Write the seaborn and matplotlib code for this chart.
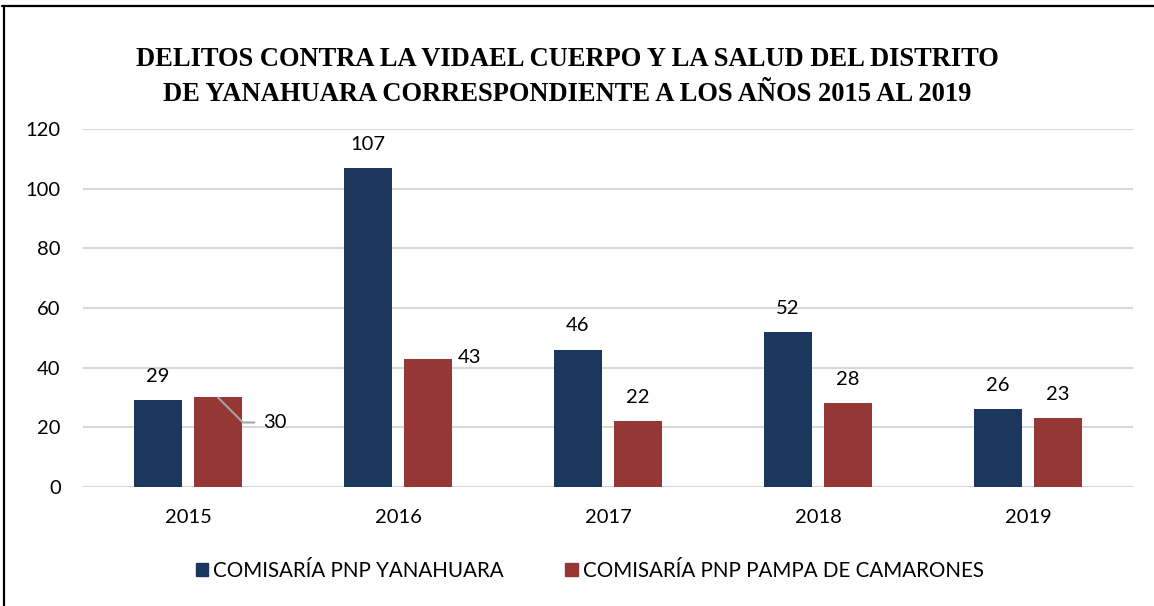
import pandas as pd
import matplotlib.pyplot as plt
import seaborn as sns
from matplotlib.lines import Line2D

years = ['2015', '2016', '2017', '2018', '2019']
yanahuara = [29, 107, 46, 52, 26]
pampa = [30, 43, 22, 28, 23]
series_names = ['COMISARÍA PNP YANAHUARA', 'COMISARÍA PNP PAMPA DE CAMARONES']
colors = ['#1b375e', '#953735']
title = ('DELITOS CONTRA LA VIDAEL CUERPO Y LA SALUD DEL DISTRITO\n'
         'DE YANAHUARA CORRESPONDIENTE A LOS AÑOS 2015 AL 2019')

df = pd.DataFrame({
    'year': years * 2,
    'value': yanahuara + pampa,
    'station': [series_names[0]] * len(years) + [series_names[1]] * len(years),
})

sns.set_theme(style='white')
plt.rcParams['font.family'] = ['Lato', 'DejaVu Sans']
plt.rcParams['text.color'] = 'black'

fig = plt.figure(figsize=(11.54, 6.06), dpi=100)
ax = fig.add_axes([0.0719, 0.1964, 0.9099, 0.5907])

sns.barplot(data=df, x='year', y='value', hue='station', palette=colors,
            saturation=1, width=0.571, gap=0.2, linewidth=0, ax=ax)

ax.set_ylim(0, 120)
ax.set_xlim(-0.5, 4.5)
ax.set_yticks(range(0, 121, 20))
ax.yaxis.grid(True, color='#d9d9d9', linewidth=1.5)
ax.set_axisbelow(True)
for s in ax.spines.values():
    s.set_visible(False)
ax.set_xlabel('')
ax.set_ylabel('')
ax.tick_params(axis='both', length=0, labelsize=14.5, labelcolor='black')
ax.tick_params(axis='x', pad=16)
ax.tick_params(axis='y', pad=16)

# data labels
for ci, cont in enumerate(ax.containers):
    for bi, bar in enumerate(cont):
        x = bar.get_x() + bar.get_width() / 2
        h = bar.get_height()
        txt = f'{h:.0f}'
        if ci == 1 and bi == 0:
            ax.annotate(txt, (x, h), xytext=(41, -18), textcoords='offset points',
                        ha='center', va='center', fontsize=14.5, color='black',
                        arrowprops=dict(arrowstyle='-', color='#a6a6a6', lw=1.5,
                                        shrinkA=4, shrinkB=0,
                                        connectionstyle='angle,angleA=0,angleB=-45,rad=0'))
        elif ci == 1 and bi == 1:
            ax.annotate(txt, (x, h), xytext=(30, 1), textcoords='offset points',
                        ha='center', va='center', fontsize=14.5, color='black')
        else:
            ax.annotate(txt, (x, h), xytext=(0, 11), textcoords='offset points',
                        ha='center', va='bottom', fontsize=14.5, color='black')

handles = [plt.Rectangle((0, 0), 1, 1, color=c) for c in colors]
ax.legend(handles, series_names, loc='center', bbox_to_anchor=(0.511, 0.0577),
          bbox_transform=fig.transFigure, ncol=2, frameon=False, fontsize=14.8,
          handlelength=0.6, handleheight=0.6, handletextpad=0.25, columnspacing=3.0,
          labelcolor='black')

fig.text(0.4913, 0.873, title, ha='center', va='center', fontsize=19.1,
         fontweight='bold', color='black',
         family=['Liberation Serif', 'DejaVu Serif'], linespacing=1.5)

# outer frame (top and left edges)
fig.add_artist(Line2D([0.002, 1], [0.9893, 0.9893], color='black', lw=1.6,
                      transform=fig.transFigure))
fig.add_artist(Line2D([0.0035, 0.0035], [0, 0.9893], color='black', lw=1.6,
                      transform=fig.transFigure))

fig.savefig('out.png', dpi=100)
